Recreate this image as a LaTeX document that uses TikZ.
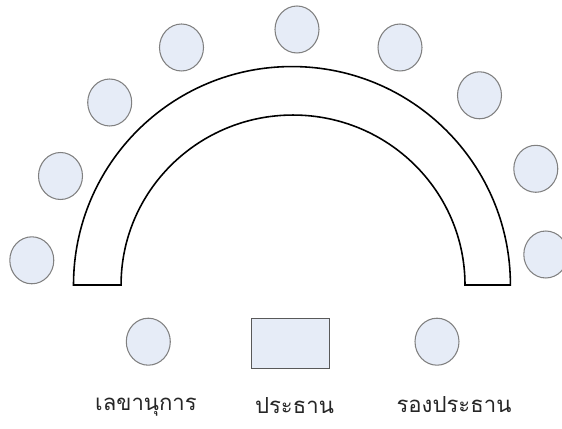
\documentclass[tikz,border=0pt]{standalone}
\usepackage{fontspec}
\newfontfamily\thaifont[Script=Thai]{Loma}
\usepackage{tikz}
\usetikzlibrary{positioning, shapes.geometric}
\definecolor{seatfill}{RGB}{230,236,247}
\definecolor{seatline}{RGB}{128,128,128}

\begin{document}
\begin{tikzpicture}[
          x=0.02cm, y=-0.02cm,
          seat/.style={ellipse, draw=seatline, fill=seatfill, line width=0.6pt,
            minimum width=0.88cm, minimum height=0.94cm, inner sep=0pt},
          desk/.style={rectangle, draw=black!65, fill=seatfill, line width=0.6pt,
            minimum width=1.56cm, minimum height=1.0cm, inner sep=0pt},
          caption/.style={font=\thaifont\fontsize{12.6}{15}\selectfont, text=black!85, inner sep=0pt}
        ]
          \useasboundingbox (0,0) rectangle (562,429);
          % the curved table
          \draw[line width=0.9pt, fill=white] (73.5,285) arc[start angle=180, end angle=0, radius=4.37cm]
            -- (465,285) arc[start angle=0, end angle=180, x radius=3.44cm, y radius=3.4cm]
            -- cycle;
          % seats round the table
          \foreach \px/\py [count=\i] in {31.8/260.3, 60.5/176, 109.7/102.5, 181.5/47.5,
              297/29.5, 400/47.5, 479.5/95.3, 535.8/168.8, 545.8/254.5}
            \node[seat] (s\i) at (\px,\py) {};
          % front row
          \node[desk] (chair) at (290.5,343.5) {};
          \node[seat] (secretary) at (148.3,341.7) {};
          \node[seat] (vice) at (437,341.7) {};
          \node[caption] (secretarylabel) at (146,407) {เลขานุการ};
          \node[caption] (chairlabel) at (294.5,406) {ประธาน};
          \node[caption] (vicelabel) at (454,405) {รองประธาน};
        \end{tikzpicture}
\end{document}
